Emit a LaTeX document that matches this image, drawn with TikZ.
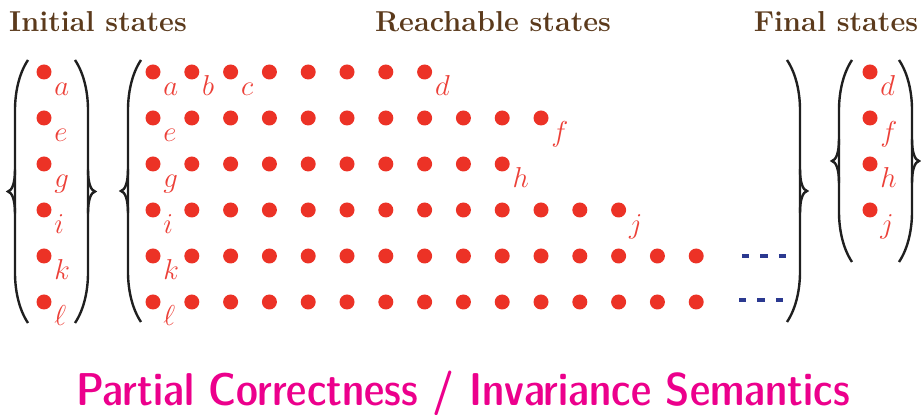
\documentclass[tikz,border=0pt]{standalone}
\usepackage{tikz}
\usetikzlibrary{calc}
\definecolor{DotRed}{HTML}{EC3226}
\definecolor{LabRed}{HTML}{EC4038}
\definecolor{HeadBrown}{HTML}{5B3A1C}
\definecolor{DashBlue}{HTML}{2B3990}
\definecolor{TagMagenta}{HTML}{EC008C}
% parenthesis with a brace on it: vertical x, top y, bottom y, side (1 left, -1 right)
\newcommand{\pbrace}[4]{%
  \draw[delim] ({#1+13*#4},#2) .. controls ({#1+3*#4},{#2+15}) and (#1,{#2+35}) .. (#1,{#2+50})
    -- (#1,{#3-50}) .. controls (#1,{#3-35}) and ({#1+3*#4},{#3-15}) .. ({#1+13*#4},#3);
  \draw[delim] (#1,{(#2+#3)/2-22}) .. controls (#1,{(#2+#3)/2-8}) and ({#1-3*#4},{(#2+#3)/2-1}) .. ({#1-7*#4},{(#2+#3)/2})
    .. controls ({#1-3*#4},{(#2+#3)/2+1}) and (#1,{(#2+#3)/2+8}) .. (#1,{(#2+#3)/2+22});}

\begin{document}
\begin{tikzpicture}[x=0.5pt,y=-0.5pt,
st/.style={circle,fill=DotRed,inner sep=0pt,minimum size=7.5pt},
lab/.style={text=LabRed,font=\fontsize{15.5}{18}\selectfont,anchor=base west,inner sep=0pt},
head/.style={text=HeadBrown,font=\Large\bfseries},
delim/.style={line width=1.2pt,draw=black!88},
more/.style={draw=DashBlue,line width=1.6pt,dash pattern=on 3.6pt off 5.6pt}]
\useasboundingbox (0,0) rectangle (921,415);
\node[head] (h-init) at (98,22) {Initial states};
\node[head] (h-reach) at (493,22) {Reachable states};
\node[head] (h-final) at (836,22) {Final states};
% initial states
\foreach \r in {1,...,6}
  \node[st] (i\r) at (44,{72+46*(\r-1)}) {};
% reachable states
\foreach \r/\n in {1/8,2/11,3/10,4/13,5/15,6/15}
  \foreach \c in {1,...,\n}
    \node[st] (r\r-\c) at ({153+38.8*(\c-1)},{72+46*(\r-1)}) {};
% final states
\foreach \r in {1,...,4}
  \node[st] (f\r) at (870,{72+46*(\r-1)}) {};
\foreach \s/\t in {i1/a,i2/e,i3/g,i4/i,i5/k,i6/\ell,
    r1-1/a,r1-2/b,r1-3/c,r1-8/d,r2-1/e,r2-11/f,r3-1/g,r3-10/h,
    r4-1/i,r4-13/j,r5-1/k,r6-1/\ell,f1/d,f2/f,f3/h,f4/j}
  \node[lab] at ([shift={(10,24)}]\s) {$\t$};
\coordinate (k-more) at (742,256);
\coordinate (k-end) at (786,256);
\coordinate (l-more) at (739,300);
\coordinate (l-end) at (783,300);
\draw[more] (k-more) -- (k-end);
\draw[more] (l-more) -- (l-end);
\pbrace{15}{60}{323}{1}
\pbrace{88}{60}{323}{-1}
\pbrace{128}{60}{322}{1}
\pbrace{800}{60}{322}{-1}
\pbrace{839}{60}{262}{1}
\pbrace{912}{60}{262}{-1}
\node[text=TagMagenta,font=\fontsize{23}{26}\sffamily\fontseries{sbc}\selectfont] (tag) at (463,393)
  {Partial Correctness / Invariance Semantics};
\end{tikzpicture}
\end{document}
